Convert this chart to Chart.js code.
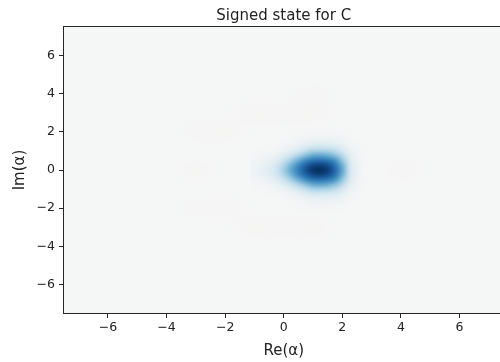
<!DOCTYPE html>
<html>
<head>
<meta charset="utf-8">
<script src="https://cdn.jsdelivr.net/npm/chart.js@4/dist/chart.umd.min.js"></script>
<style>
html,body{margin:0;padding:0;background:#fff;overflow:hidden;width:500px;height:362px;}
canvas{display:block;}
</style>
</head>
<body>
<canvas id="c" width="510" height="362" style="width:510px;height:362px"></canvas>
<script>
// ---- tick labels / axis ranges ----
const xTicks = [-6, -4, -2, 0, 2, 4, 6];
const yTicks = [-6, -4, -2, 0, 2, 4, 6];
const axisMin = -7.5, axisMax = 7.5;
const titleText = "Signed state for C";
const xLabel = "Re(\u03b1)";
const yLabel = "Im(\u03b1)";

// ---- fine grid around the positive blob (normalised W, 1 = max) ----
const blobX = [-1, -0.75, -0.5, -0.25, 0, 0.25, 0.5, 0.75, 1, 1.25, 1.5, 1.75, 2, 2.25, 2.5, 2.75, 3];
const blobY = [2, 1.75, 1.5, 1.25, 1, 0.75, 0.5, 0.25, 0, -0.25, -0.5, -0.75, -1, -1.25, -1.5, -1.75, -2];
const blobW = [
  [0,0,0,0,0,.001,.003,.006,.012,.012,.011,.01,.006,.002,.001,0,0],
  [0,0,0,0,.001,.004,.01,.02,.033,.034,.032,.027,.018,.007,.002,0,0],
  [0,0,.001,.002,.006,.016,.032,.054,.081,.083,.079,.066,.043,.017,.005,.001,0],
  [.001,.002,.003,.008,.021,.045,.08,.126,.173,.177,.168,.142,.092,.035,.011,.002,0],
  [.004,.007,.011,.026,.058,.109,.175,.253,.323,.33,.314,.264,.172,.066,.02,.003,0],
  [.01,.018,.031,.064,.126,.216,.32,.435,.525,.536,.51,.429,.279,.107,.032,.005,0],
  [.022,.039,.066,.12,.218,.35,.50,.64,.74,.758,.72,.606,.394,.152,.045,.008,0],
  [.034,.06,.103,.176,.30,.47,.64,.81,.91,.933,.886,.746,.485,.187,.056,.009,0],
  [.04,.07,.12,.2,.34,.52,.7,.87,.98,1,.95,.8,.52,.2,.06,.01,0],
  [.034,.06,.103,.176,.30,.47,.64,.81,.91,.933,.886,.746,.485,.187,.056,.009,0],
  [.022,.039,.066,.12,.218,.35,.50,.64,.74,.758,.72,.606,.394,.152,.045,.008,0],
  [.01,.018,.031,.064,.126,.216,.32,.435,.525,.536,.51,.429,.279,.107,.032,.005,0],
  [.004,.007,.011,.026,.058,.109,.175,.253,.323,.33,.314,.264,.172,.066,.02,.003,0],
  [.001,.002,.003,.008,.021,.045,.08,.126,.173,.177,.168,.142,.092,.035,.011,.002,0],
  [0,0,.001,.002,.006,.016,.032,.054,.081,.083,.079,.066,.043,.017,.005,.001,0],
  [0,0,0,0,.001,.004,.01,.02,.033,.034,.032,.027,.018,.007,.002,0,0],
  [0,0,0,0,0,.001,.003,.006,.012,.012,.011,.01,.006,.002,.001,0,0]
];

// ---- coarse grid of the faint negative ring ----
const ringX = [-5, -4, -3, -2, -1, 0, 1, 2, 3, 4, 5];
const ringY = [5, 4, 3, 2, 1, 0, -1, -2, -3, -4, -5];
const ringW = [
  [0,0,0,0,0,0,0,0,0,0,0],
  [0,0,0,0,0,0,-.004,0,0,0,0],
  [0,0,0,0,-.008,-.004,-.008,0,0,0,0],
  [0,0,-.006,-.008,0,0,0,0,0,0,0],
  [0,0,0,0,0,0,0,0,0,0,0],
  [0,0,-.008,0,0,0,0,0,0,-.008,0],
  [0,0,0,0,0,0,0,0,0,0,0],
  [0,0,-.006,-.008,0,0,0,0,0,0,0],
  [0,0,0,0,-.008,-.004,-.008,0,0,0,0],
  [0,0,0,0,0,0,0,0,0,0,0],
  [0,0,0,0,0,0,0,0,0,0,0]
];

// ---- diverging colour map (RdBu-like) ----
const cmapStops = [
  [0.0,[103,0,31]],[0.1,[178,24,43]],[0.2,[214,96,77]],[0.3,[244,165,130]],[0.4,[253,219,199]],
  [0.5,[245,246,246]],
  [0.6,[209,229,240]],[0.7,[146,197,222]],[0.8,[67,147,195]],[0.9,[33,102,172]],[1.0,[5,48,97]]
];
function cmap(v){
  let p = Math.max(0, Math.min(1, 0.5 + v/2));
  for (let i=1;i<cmapStops.length;i++){
    const [p1,c1] = cmapStops[i];
    if (p <= p1){
      const [p0,c0] = cmapStops[i-1];
      const t = (p-p0)/(p1-p0);
      return [0,1,2].map(k=>Math.round(c0[k]+(c1[k]-c0[k])*t));
    }
  }
  return cmapStops[cmapStops.length-1][1];
}

function drawGrid(chart, xs, ys, rows){
  const ctx = chart.ctx;
  const w = xs.length, h = ys.length;
  const off = document.createElement('canvas');
  off.width = w; off.height = h;
  const octx = off.getContext('2d');
  const img = octx.createImageData(w, h);
  for (let j=0;j<h;j++) for (let i=0;i<w;i++){
    const c = cmap(rows[j][i]);
    const o = (j*w+i)*4;
    img.data[o]=c[0]; img.data[o+1]=c[1]; img.data[o+2]=c[2]; img.data[o+3]=255;
  }
  octx.putImageData(img,0,0);
  const dx = xs[1]-xs[0], dy = ys[0]-ys[1];
  const X = chart.scales.x, Y = chart.scales.y;
  const l = X.getPixelForValue(xs[0]-dx/2), r = X.getPixelForValue(xs[w-1]+dx/2);
  const t = Y.getPixelForValue(ys[0]+dy/2), b = Y.getPixelForValue(ys[h-1]-dy/2);
  ctx.imageSmoothingEnabled = true;
  ctx.imageSmoothingQuality = 'high';
  ctx.drawImage(off, l, t, r-l, b-t);
}

const heatPlugin = {
  id: 'heat',
  beforeDraw(chart){
    const a = chart.chartArea, ctx = chart.ctx;
    ctx.save();
    ctx.beginPath(); ctx.rect(a.left, a.top, a.right-a.left, a.bottom-a.top); ctx.clip();
    const bg = cmap(0);
    ctx.fillStyle = `rgb(${bg[0]},${bg[1]},${bg[2]})`;
    ctx.fillRect(a.left, a.top, a.right-a.left, a.bottom-a.top);
    drawGrid(chart, ringX, ringY, ringW);
    drawGrid(chart, blobX, blobY, blobW);
    ctx.restore();
  },
  afterDraw(chart){
    const a = chart.chartArea, ctx = chart.ctx;
    ctx.save();
    ctx.strokeStyle = '#262626'; ctx.lineWidth = 1;
    ctx.strokeRect(Math.round(a.left)-0.5, Math.round(a.top)-0.5, Math.round(a.right-a.left)+1, Math.round(a.bottom-a.top)+1);
    ctx.fillStyle = '#222';
    ctx.font = '15px "DejaVu Sans"';
    ctx.textAlign = 'center'; ctx.textBaseline = 'alphabetic';
    const cx = (a.left + a.right)/2;
    ctx.fillText(titleText, cx, 19.5);
    ctx.fillText(xLabel, cx, 354.5);
    ctx.translate(23.5, (a.top+a.bottom)/2);
    ctx.rotate(-Math.PI/2);
    ctx.fillText(yLabel, 0, 0);
    ctx.restore();
  }
};

const fmt = v => v < 0 ? '\u2212' + Math.abs(v) : String(v);
const tickFont = {family: 'DejaVu Sans', size: 12.5};
const gridOpts = {display:true, drawOnChartArea:false, drawTicks:true, tickLength:5, tickColor:'#262626', tickWidth:1};

const points = [];
blobY.forEach((y,j)=>blobX.forEach((x,i)=>points.push({x, y, w: blobW[j][i]})));

new Chart(document.getElementById('c'), {
  type: 'scatter',
  data: { datasets: [{ label: 'W', data: points, pointRadius: 0, pointHoverRadius: 0 }] },
  options: {
    responsive: false,
    animation: false,
    events: [],
    layout: { padding: { top: 27, right: 6.5, left: 0, bottom: 0 } },
    plugins: { legend: {display:false}, title: {display:false}, tooltip: {enabled:false} },
    scales: {
      x: {
        type: 'linear', min: axisMin, max: axisMax,
        grid: gridOpts, border: {display:false},
        afterBuildTicks: s => { s.ticks = xTicks.map(v=>({value:v})); },
        afterFit: s => { s.height = 49; },
        ticks: { font: tickFont, color:'#222', padding: 2, maxRotation:0, autoSkip:false, callback: fmt }
      },
      y: {
        type: 'linear', min: axisMin, max: axisMax,
        grid: gridOpts, border: {display:false},
        afterBuildTicks: s => { s.ticks = yTicks.map(v=>({value:v})); },
        afterFit: s => { s.width = 64; },
        ticks: { font: tickFont, color:'#222', padding: 4, autoSkip:false, callback: fmt }
      }
    }
  },
  plugins: [heatPlugin]
});
</script>
</body>
</html>
